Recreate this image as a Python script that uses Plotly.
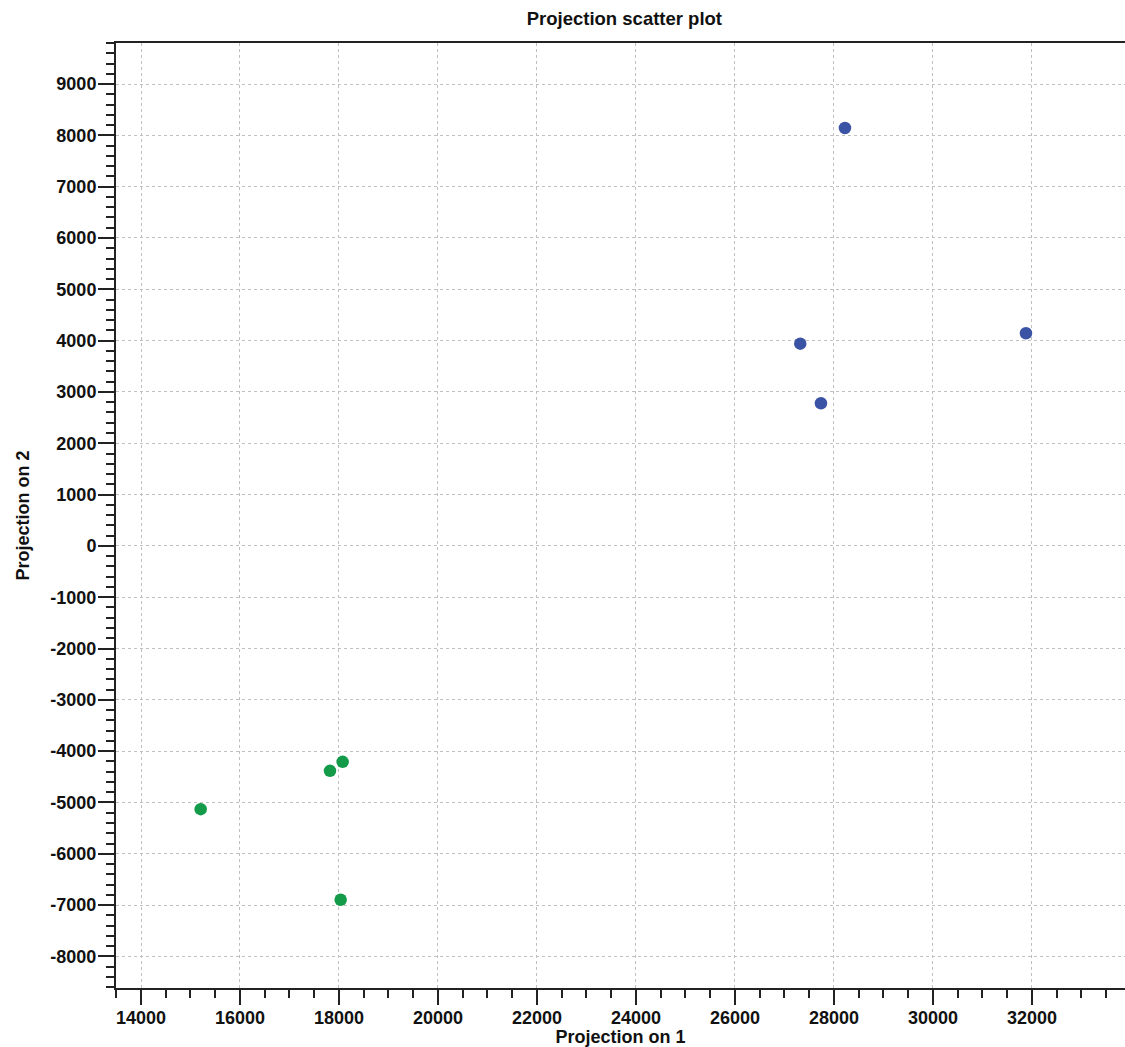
import plotly.graph_objects as go

blue_x = [28222, 27319, 27737, 31879]
blue_y = [8143, 3941, 2779, 4143]
green_x = [15206, 17818, 18074, 18034]
green_y = [-5131, -4384, -4209, -6897]

x_ticks = list(range(14000, 32001, 2000))
y_ticks = list(range(-8000, 9001, 1000))

font_family = "Arial, Liberation Sans, sans-serif"

fig = go.Figure()
fig.add_trace(go.Scatter(x=blue_x, y=blue_y, mode="markers",
                         marker=dict(color="#3a53a4", size=12.5), showlegend=False))
fig.add_trace(go.Scatter(x=green_x, y=green_y, mode="markers",
                         marker=dict(color="#139b4a", size=12.5), showlegend=False))

fig.update_layout(
    width=1125, height=1047,
    margin=dict(l=116, r=0, t=43, b=59),
    plot_bgcolor="white", paper_bgcolor="white",
    font=dict(family=font_family, color="#111111"),
    title=dict(text="<b>Projection scatter plot</b>", x=0.555, xanchor="center",
               xref="container", y=0.9819, yanchor="middle",
               font=dict(size=18.5, color="#111111")),
)
fig.update_xaxes(
    range=[13495, 33880],
    tickvals=x_ticks, ticktext=[f"<b>{v}</b>" for v in x_ticks],
    tickfont=dict(size=18), ticks="outside", ticklen=15, tickwidth=2, tickcolor="#222222",
    ticklabelstandoff=-3,
    showline=True, linewidth=2, linecolor="#222222", mirror=True,
    showgrid=True, gridcolor="#c0c0c0", griddash="3px,3px", gridwidth=1,
    zeroline=False,
    minor=dict(dtick=500, tick0=0, ticks="outside", ticklen=8, tickwidth=1.5,
               tickcolor="#222222", showgrid=False),
    title=dict(text="<b>Projection on 1</b>", font=dict(size=18), standoff=0),
)
fig.update_yaxes(
    range=[-8616, 9800],
    tickvals=y_ticks, ticktext=[f"<b>{v}</b>" for v in y_ticks],
    tickfont=dict(size=18), ticks="outside", ticklen=16, tickwidth=2, tickcolor="#222222",
    ticklabelstandoff=-2,
    showline=True, linewidth=2, linecolor="#222222", mirror=False,
    showgrid=True, gridcolor="#c0c0c0", griddash="3px,3px", gridwidth=1,
    zeroline=False,
    minor=dict(dtick=200, tick0=0, ticks="outside", ticklen=8, tickwidth=1.5,
               tickcolor="#222222", showgrid=False),
    title=dict(text="<b>Projection on 2</b>", font=dict(size=18), standoff=16),
)

fig.write_html(
    "out.html",
    config={"displayModeBar": False},
    post_script="document.body.style.margin='0';document.body.style.overflow='hidden';",
)
